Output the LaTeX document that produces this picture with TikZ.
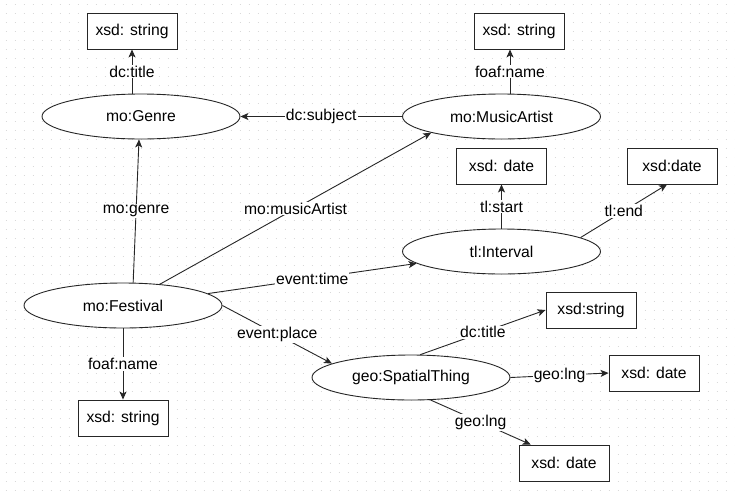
\documentclass[tikz,border=0pt]{standalone}
\usepackage{fontspec}
\setmainfont{Liberation Sans}
\usetikzlibrary{shapes.geometric,arrows.meta}
\begin{document}
\begin{tikzpicture}[x=1pt,y=-1pt,
  every node/.style={font=\fontsize{15.7}{18}\selectfont, text=black},
  cls/.style={ellipse, draw=black!85, line width=0.9pt, minimum width=198pt, minimum height=45pt, inner sep=0pt, fill=white},
  lit/.style={rectangle, draw=black!85, line width=0.9pt, minimum width=90pt, minimum height=36pt, inner sep=0pt, fill=white},
  rel/.style={draw=black!85, line width=0.9pt, -{Stealth[length=8pt,width=7pt,inset=2pt]}},
  lbl/.style={fill=white, inner sep=1pt}
]
\useasboundingbox (0,0) rectangle (735,493);
\fill[white] (0,0) rectangle (735,493);
\foreach \r in {0,...,54}
  \draw[gray!30, line width=1pt, dash pattern=on 1pt off 8pt] (5.5,4.5+9*\r) -- (735,4.5+9*\r);

\node[lit] (b1) at (132,31) {xsd: string};
\node[lit] (b2) at (519,31) {xsd: string};
\node[cls] (genre) at (141,116.5) {mo:Genre};
\node[cls] (artist) at (501.5,116.5) {mo:MusicArtist};
\node[lit] (b3) at (501.5,166) {xsd: date};
\node[lit] (b4) at (672,166) {xsd:date};
\node[cls] (interval) at (501.5,251.5) {tl:Interval};
\node[cls] (fest) at (123,305.5) {mo:Festival};
\node[lit] (b5) at (591,310) {xsd:string};
\node[cls] (place) at (411,377.5) {geo:SpatialThing};
\node[lit] (b6) at (654,373) {xsd: date};
\node[lit] (b8) at (123,418) {xsd: string};
\node[lit] (b7) at (564,463) {xsd: date};

\draw[rel] (genre.north -| b1.south) -- (b1.south) node[lbl,midway] {dc:title};
\draw[rel] ([xshift=8.5pt]artist.north) -- ([xshift=-9pt]b2.south) node[lbl,midway] {foaf:name};
\draw[rel] (artist.west) -- (genre.east) node[lbl,midway] {dc:subject};
\draw[rel] (fest.66) -- ([xshift=-2pt]genre.south) node[lbl,midway] {mo:genre};
\draw[rel] (fest.30) -- (artist.193) node[lbl,midway] {mo:musicArtist};
\draw[rel] (fest.8) -- (interval.188) node[lbl,midway] {event:time};
\draw[rel] (fest.east) -- (place.170) node[lbl,midway] {event:place};
\draw[rel] (fest.south) -- (b8.north) node[lbl,midway] {foaf:name};
\draw[rel] (interval.north) -- (b3.south) node[lbl,midway] {tl:start};
\draw[rel] (interval.10) -- ([xshift=-5pt]b4.south) node[lbl,midway] {tl:end};
\draw[rel] (place.68) -- (b5.west) node[lbl,midway] {dc:title};
\draw[rel] (place.east) -- (b6.west) node[lbl,midway] {geo:lng};
\draw[rel] (place.311) -- (b7.151) node[lbl,midway] {geo:lng};
\end{tikzpicture}
\end{document}
